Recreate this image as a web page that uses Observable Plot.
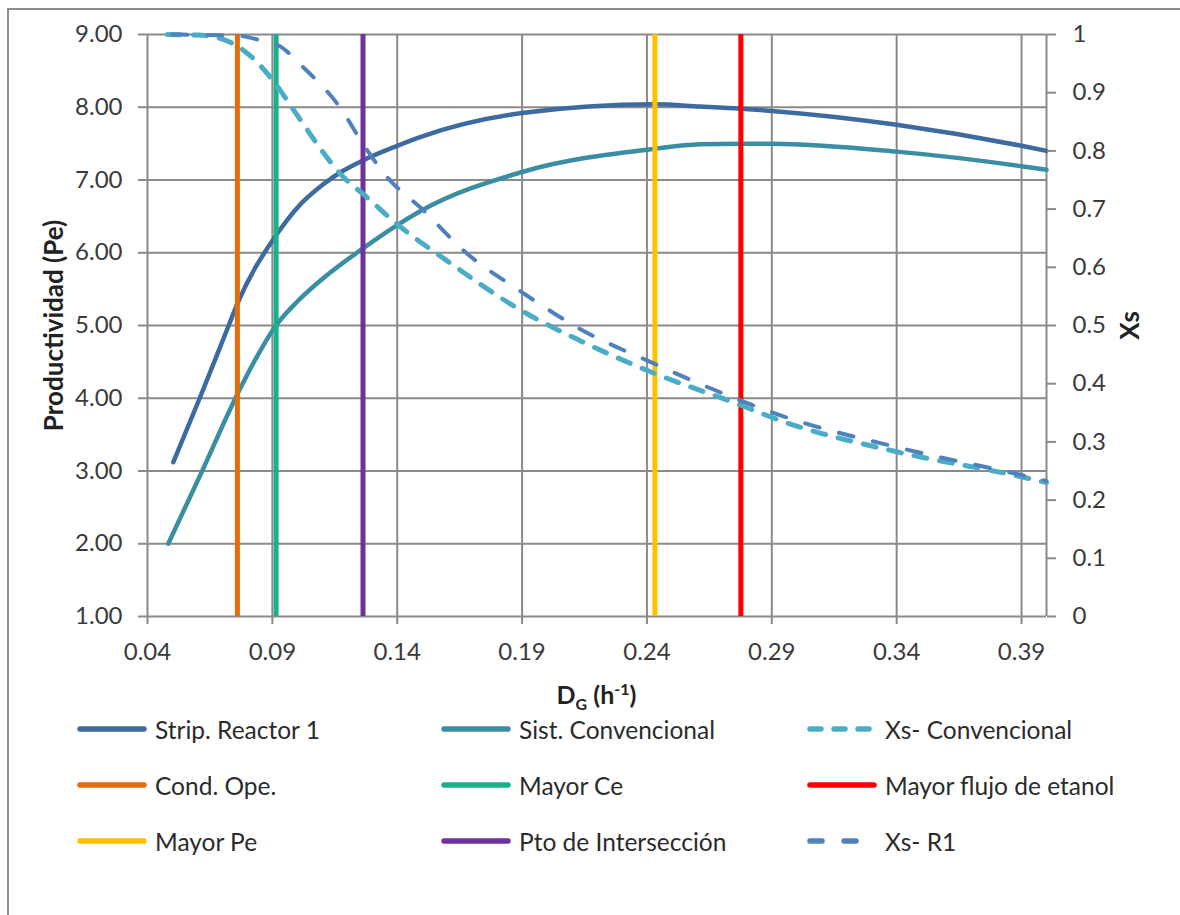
<!DOCTYPE html>
<html>
<head>
<meta charset="utf-8">
<script src="https://cdn.jsdelivr.net/npm/d3@7"></script>
<script src="https://cdn.jsdelivr.net/npm/@observablehq/plot@0.6"></script>
<style>
  body { margin: 0; background: #fff; font-family: Lato, "Open Sans", sans-serif; }
  #wrap { position: relative; width: 1180px; height: 915px; overflow: hidden; background: #fff; }
  #frame { position: absolute; left: 7px; top: 8px; width: 1300px; height: 1100px; border: 2px solid #8c8c8c; box-sizing: border-box; }
  #chart { position: absolute; left: 0; top: 0; }
  #xtitle { position: absolute; left: 0; width: 1193px; top: 672px; text-align: center; font-weight: bold; font-size: 25px; color: #222; line-height: 34px; }
  #xtitle sub, #xtitle sup { font-size: 16px; }
  .item { position: absolute; height: 34px; display: flex; align-items: center; font-size: 24.5px; color: #2b2b2b; white-space: nowrap; }
  .item svg { margin-right: 7px; }
</style>
</head>
<body>
<div id="wrap">
  <div id="frame"></div>
  <div id="chart"></div>
  <div id="xtitle">D<sub>G</sub> (h<sup>-1</sup>)</div>
  <div id="legend"></div>
</div>
<script>
// Dilution rate ticks and value ticks
const xTicks = [0.04, 0.09, 0.14, 0.19, 0.24, 0.29, 0.34, 0.39];
const peTicks = [1, 2, 3, 4, 5, 6, 7, 8, 9];
const xsTicks = [0, 0.1, 0.2, 0.3, 0.4, 0.5, 0.6, 0.7, 0.8, 0.9, 1];

// Productividad, Strip. Reactor 1
const dgR1 = [0.0503, 0.0609, 0.0725, 0.0760, 0.0915, 0.1000, 0.1100, 0.1180, 0.1263, 0.1400, 0.1492, 0.1900, 0.2432, 0.2612, 0.2776, 0.2900, 0.3400, 0.3900, 0.4000];
const peR1 = [3.12, 4.00, 5.00, 5.30, 6.24, 6.62, 6.93, 7.12, 7.27, 7.47, 7.59, 7.92, 8.04, 8.01, 7.98, 7.95, 7.76, 7.47, 7.40];

// Productividad, Sist. Convencional
const dgConv = [0.0483, 0.0619, 0.0752, 0.0830, 0.0908, 0.1000, 0.1100, 0.1263, 0.1400, 0.1492, 0.1900, 0.2432, 0.2612, 0.2776, 0.2900, 0.3400, 0.3900, 0.4000];
const peConv = [2.00, 3.00, 4.00, 4.52, 4.97, 5.33, 5.64, 6.06, 6.38, 6.57, 7.11, 7.43, 7.49, 7.50, 7.50, 7.39, 7.19, 7.14];

// Xs, Sist. Convencional (secondary axis)
const dgXsConv = [0.0480, 0.0600, 0.0700, 0.0760, 0.0915, 0.0979, 0.1199, 0.1263, 0.1400, 0.1600, 0.1900, 0.2132, 0.2400, 0.2776, 0.2932, 0.3400, 0.3900, 0.4000];
const xsConv = [1.000, 0.999, 0.992, 0.980, 0.914, 0.874, 0.749, 0.726, 0.674, 0.611, 0.525, 0.474, 0.423, 0.363, 0.337, 0.283, 0.240, 0.230];

// Xs, Reactor 1 (secondary axis)
const dgXsR1 = [0.0500, 0.0760, 0.0885, 0.0915, 0.1025, 0.1172, 0.1263, 0.1372, 0.1400, 0.1492, 0.1665, 0.1900, 0.2145, 0.2400, 0.2776, 0.2932, 0.3400, 0.3900, 0.4000];
const xsR1 = [1.000, 0.998, 0.986, 0.983, 0.943, 0.874, 0.812, 0.749, 0.737, 0.703, 0.629, 0.557, 0.491, 0.440, 0.371, 0.346, 0.291, 0.243, 0.233];

// Operating points marked as vertical lines
const markerNames = ["Cond. Ope.", "Mayor Ce", "Mayor flujo de etanol", "Mayor Pe", "Pto de Intersección"];
const markerDg = [0.0760, 0.0915, 0.2776, 0.2432, 0.1263];

const palette = {
  "Strip. Reactor 1": "#3e6b9f",
  "Sist. Convencional": "#3a8ea4",
  "Xs- Convencional": "#4bacc6",
  "Xs- R1": "#4f81bd",
  "Cond. Ope.": "#e46c0a",
  "Mayor Ce": "#17b28b",
  "Mayor flujo de etanol": "#ff0000",
  "Mayor Pe": "#ffc000",
  "Pto de Intersección": "#7030a0"
};
const dashes = { "Xs- Convencional": "13,13", "Xs- R1": "15,20" };
const legendDashes = { "Xs- Convencional": "11,13", "Xs- R1": "12,22" };
const widths = { "Xs- Convencional": 5, "Xs- R1": 4 };

// Xs (0..1) is drawn against the Pe scale (1..9)
const xsToPe = v => 1 + 8 * v;
const peToXs = v => (v - 1) / 8;

const r1 = dgR1.map((x, i) => ({x, y: peR1[i]}));
const conv = dgConv.map((x, i) => ({x, y: peConv[i]}));
const xsC = dgXsConv.map((x, i) => ({x, xs: xsConv[i]}));
const xsR = dgXsR1.map((x, i) => ({x, xs: xsR1[i]}));
const markers = markerNames.map((name, i) => ({name, x: markerDg[i], color: palette[name]}));

const gridColor = "#8a8a8a";
const tickText = "#3a3a3a";
const fmt2 = d3.format(".2f");
const fmtXs = v => d3.format("~g")(+peToXs(v).toFixed(2));

const chart = Plot.plot({
  width: 1180,
  height: 672,
  marginTop: 34,
  marginLeft: 147,
  marginRight: 134,
  marginBottom: 56,
  style: { fontFamily: "Lato, sans-serif", fontSize: "24px", color: tickText, background: "none", overflow: "visible" },
  x: { domain: [0.04, 0.40] },
  y: { domain: [1, 9] },
  color: { type: "identity" },
  marks: [
    Plot.gridX(xTicks.slice(1), { stroke: gridColor, strokeOpacity: 1, strokeWidth: 2 }),
    Plot.gridY(peTicks, { stroke: gridColor, strokeOpacity: 1, strokeWidth: 2 }),
    Plot.ruleX([0.04, 0.40], { stroke: gridColor, strokeWidth: 2 }),
    Plot.line(r1, { x: "x", y: "y", stroke: palette["Strip. Reactor 1"], strokeWidth: 4.5, curve: "monotone-x" }),
    Plot.line(conv, { x: "x", y: "y", stroke: palette["Sist. Convencional"], strokeWidth: 4.5, curve: "monotone-x" }),
    Plot.ruleX(markers, { x: "x", stroke: "color", strokeWidth: 5 }),
    Plot.line(xsC, { x: "x", y: d => xsToPe(d.xs), stroke: palette["Xs- Convencional"], strokeWidth: widths["Xs- Convencional"], strokeDasharray: dashes["Xs- Convencional"], curve: "monotone-x" }),
    Plot.line(xsR, { x: "x", y: d => xsToPe(d.xs), stroke: palette["Xs- R1"], strokeWidth: widths["Xs- R1"], strokeDasharray: dashes["Xs- R1"], curve: "monotone-x" }),
    Plot.axisX(xTicks, { anchor: "bottom", tickSize: 8, tickPadding: 18, tickFormat: fmt2, stroke: gridColor, strokeWidth: 2, fill: tickText, label: null }),
    Plot.axisY(peTicks, { anchor: "left", tickSize: 9, tickPadding: 16, tickFormat: fmt2, stroke: gridColor, strokeWidth: 2, fill: tickText, label: null }),
    Plot.axisY(xsTicks.map(xsToPe), { anchor: "right", tickSize: 9, tickPadding: 17, tickFormat: fmtXs, stroke: gridColor, strokeWidth: 2, fill: tickText, label: null }),
    Plot.text(["Productividad (Pe)"], { frameAnchor: "left", dx: -93, rotate: -90, textAnchor: "middle", fontWeight: "bold", fontSize: 26, fill: "#222" }),
    Plot.text(["Xs"], { frameAnchor: "right", dx: 84, rotate: -90, textAnchor: "middle", fontWeight: "bold", fontSize: 26, fill: "#222" })
  ]
});
document.getElementById("chart").appendChild(chart);

// Legend: three columns, three rows
const legendOrder = [
  "Strip. Reactor 1", "Sist. Convencional", "Xs- Convencional",
  "Cond. Ope.", "Mayor Ce", "Mayor flujo de etanol",
  "Mayor Pe", "Pto de Intersección", "Xs- R1"
];
const colLeft = [76, 440, 806];
const rowMid = [729, 785, 841];
const legend = document.getElementById("legend");
legendOrder.forEach((name, i) => {
  const item = document.createElement("div");
  item.className = "item";
  item.style.left = colLeft[i % 3] + "px";
  item.style.top = (rowMid[Math.floor(i / 3)] - 17) + "px";
  const dash = legendDashes[name] ? `stroke-dasharray="${legendDashes[name]}"` : "";
  item.innerHTML = `<svg width="72" height="12"><line x1="4" y1="6" x2="68" y2="6" stroke="${palette[name]}" stroke-width="5.5" stroke-linecap="round" ${dash}/></svg><span>${name}</span>`;
  legend.appendChild(item);
});
</script>
</body>
</html>
